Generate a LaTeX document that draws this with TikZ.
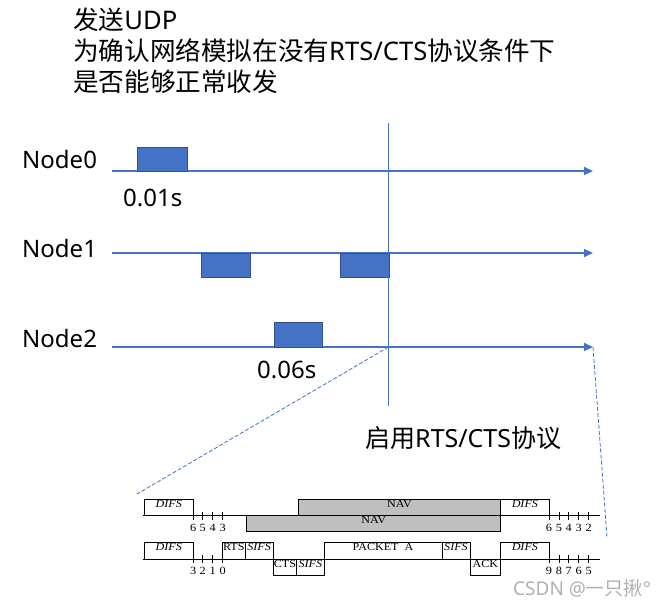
\documentclass[tikz,border=0pt]{standalone}
\usepackage{fontspec}
\setmainfont{Noto Sans}
\newfontfamily\cjk{Noto Sans CJK SC}
\newfontfamily\ser[FakeStretch=1.12]{Liberation Serif}
\usetikzlibrary{arrows.meta,fit}
\definecolor{ublue}{HTML}{4472C4}
\definecolor{bdark}{HTML}{2F528F}
\definecolor{navgrey}{HTML}{BFBFBF}
\definecolor{wmgrey}{HTML}{B0B0B0}
\begin{document}
\begin{tikzpicture}[x=1pt,y=-1pt,
  lbl/.style={anchor=base west, inner sep=0pt, font=\fontsize{24}{28}\selectfont},
  head/.style={anchor=base west, inner sep=0pt, font=\fontsize{25.6}{31}\selectfont},
  axis/.style={draw=ublue, line width=2pt, -{Triangle[length=9pt,width=8pt]}},
  blk/.style={draw=bdark, fill=ublue, line width=0.8pt, inner sep=0pt, outer sep=0pt, anchor=south west},
  guide/.style={draw=ublue, line width=0.9pt},
  zoomline/.style={draw=ublue, line width=0.8pt, dash pattern=on 4pt off 2pt},
  tbox/.style={draw=black, line width=0.7pt, inner sep=0pt, outer sep=0pt, font=\ser\fontsize{10.8}{11}\selectfont},
  navbox/.style={tbox, fill=navgrey},
  tline/.style={draw=black, line width=0.8pt},
  tick/.style={draw=black, line width=0.7pt},
  num/.style={inner sep=0pt, font=\ser\fontsize{11}{11}\selectfont}
]
\useasboundingbox (0,0) rectangle (667,607);

% heading
\node[head] (h1) at (73,30) {{\cjk 发送}UDP};
\node[head] (h2) at (73,61) {{\cjk 为确认网络模拟在没有}RTS/CTS{\cjk 协议条件下}};
\node[head] (h3) at (73,92) {{\cjk 是否能够正常收发}};

% node labels
\node[lbl] (l0) at (22,168) {Node0};
\node[lbl] (l1) at (22,257.7) {Node1};
\node[lbl] (l2) at (22,347.3) {Node2};

% axes
\coordinate (a0s) at (112,171);  \coordinate (a0e) at (593,171);
\coordinate (a1s) at (112,253);  \coordinate (a1e) at (593,253);
\coordinate (a2s) at (112,347);  \coordinate (a2e) at (593,347);
\draw[axis] (a0s) -- (a0e);
\draw[axis] (a1s) -- (a1e);
\draw[axis] (a2s) -- (a2e);

% packets
\node[blk, minimum width=50pt, minimum height=24pt] (b0) at (137,171) {};
\node[blk, minimum width=49.7pt, minimum height=24pt, anchor=north west] (b1a) at (201,253) {};
\node[blk, minimum width=49pt, minimum height=24pt, anchor=north west] (b1b) at (340,253) {};
\node[blk, minimum width=48pt, minimum height=25pt] (b2) at (274,347) {};

\node[lbl] (t0) at (123,207) {0.01s};
\node[lbl] (t2) at (257,378) {0.06s};

% vertical guide
\coordinate (vt) at (388.5,123);
\coordinate (vb) at (388.5,406);
\draw[guide] (vt) -- (vb);
\node[head, font=\fontsize{25}{30}\selectfont] (rts) at (365,447) {{\cjk 启用}RTS/CTS{\cjk 协议}};

% zoom lines
\coordinate (zl) at (388.5,347);
\coordinate (zle) at (137,494);
\coordinate (zre) at (607,537);
\draw[zoomline] (zl) -- (zle);
\draw[zoomline] (a2e) -- (zre);

% ---- timing diagram ----
% row 1
\coordinate (r1s) at (142.7,515.7); \coordinate (r1e) at (600,515.7);
\node[tbox, fit={(144.3,499) (193.3,515.7)}] (d1) {\itshape DIFS};
\node[navbox, fit={(298.3,499) (500.7,515.7)}] (nav1) {NAV};
\node[navbox, fit={(246.7,515.7) (500.7,531.7)}] (nav2) {NAV};
\node[tbox, fit={(500.7,499) (549,515.7)}] (d2) {\itshape DIFS};
\draw[tline] (r1s) -- (r1e);
\foreach \x/\n [count=\i] in {193.3/6,202.7/5,212.7/4,222.7/3}{
  \draw[tick] (\x,511.7) -- (\x,519.5);
  \node[num] (na\i) at (\x,527.7) {\n};
}
\foreach \x/\n [count=\i] in {549/6,559/5,568.8/4,578.6/3,588.7/2}{
  \draw[tick] (\x,511.7) -- (\x,519.5);
  \node[num] (nb\i) at (\x,527.7) {\n};
}

% row 2
\coordinate (r2s) at (142.7,559); \coordinate (r2e) at (600,559);
\node[tbox, fit={(144.3,542.3) (193.3,559)}] (d3) {\itshape DIFS};
\node[tbox, fit={(222.7,542.3) (245,559)}] (rtsb) {RTS};
\node[tbox, fit={(245,542.3) (273.3,559)}] (s1) {\itshape SIFS};
\node[tbox, fit={(273.3,559) (296.7,575.7)}] (ctsb) {CTS};
\node[tbox, fit={(296.7,559) (324,575.7)}] (s2) {\itshape SIFS};
\node[tbox, fit={(324,542.3) (442,559)}] (pkt) {PACKET\ \ A};
\node[tbox, fit={(442,542.3) (470,559)}] (s3) {\itshape SIFS};
\node[tbox, fit={(470,559) (500.7,575.7)}] (ack) {ACK};
\node[tbox, fit={(500.7,542.3) (549,559)}] (d4) {\itshape DIFS};
\draw[tline] (r2s) -- (r2e);
\foreach \x/\n [count=\i] in {193.3/3,202.7/2,212.7/1,222.7/0}{
  \draw[tick] (\x,555) -- (\x,562.8);
  \node[num] (nc\i) at (\x,571) {\n};
}
\foreach \x/\n [count=\i] in {549/9,559/8,568.8/7,578.6/6,588.7/5}{
  \draw[tick] (\x,555) -- (\x,562.8);
  \node[num] (nd\i) at (\x,571) {\n};
}

% watermark
\node[anchor=base west, inner sep=0pt, text=wmgrey, font=\fontsize{19}{22}\selectfont] (wm) at (513,595) {CSDN @{\cjk 一只揪}°};
\end{tikzpicture}
\end{document}
